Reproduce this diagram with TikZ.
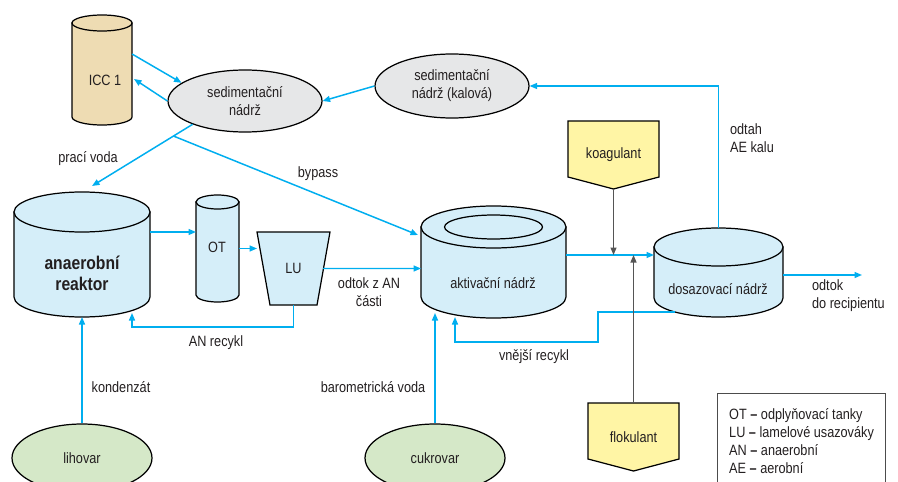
\documentclass[tikz,border=0pt]{standalone}
\usepackage{fontspec}
\setmainfont{Liberation Sans}[FakeStretch=0.85]
\usepackage{tikz}
\usetikzlibrary{positioning,arrows.meta,calc,shapes.geometric,backgrounds}
\definecolor{cFlow}{HTML}{00AEEF}
\definecolor{cTank}{HTML}{D5EEF9}
\definecolor{cSed}{HTML}{E6E7E8}
\definecolor{cSrc}{HTML}{D5E8C8}
\definecolor{cChem}{HTML}{FFF5A5}
\definecolor{cIcc}{HTML}{EEDCB3}
\definecolor{cDose}{HTML}{555555}
\definecolor{cText}{HTML}{231F20}

% cylinder round an empty body node: name, radii of the ends
\newcommand\drawtank[4][]{%
  \filldraw[tankline,#1] (#2.north west) -- (#2.south west)
    arc[start angle=180,end angle=360,x radius=#3,y radius=#4] -- (#2.north east) -- cycle;
  \filldraw[tankline,#1] (#2.north) ellipse[x radius=#3,y radius=#4];
}
\newcommand\ldash{ \textbf{--} }

\begin{document}
\begin{tikzpicture}[
  x=0.2mm, y=0.2mm,
  font=\fontsize{8.5}{10.2}\selectfont, text=cText,
  body/.style ={inner sep=0pt, outer sep=0pt},
  tankline/.style={draw=black, line width=0.7pt, fill=cTank},
  basin/.style={ellipse, draw=black, line width=0.7pt, inner sep=0pt, align=center},
  sed/.style  ={basin, fill=cSed, minimum width=30.8mm, minimum height=12.4mm},
  src/.style  ={basin, fill=cSrc, minimum width=28mm, minimum height=13.6mm},
  chem/.style ={inner sep=0pt, outer sep=0pt, minimum width=18.2mm, minimum height=13.6mm},
  chemline/.style={draw=black, line width=0.7pt, fill=cChem},
  flow/.style ={-{Triangle[length=1.5mm,width=1.2mm]}, draw=cFlow, line width=0.85pt},
  dose/.style ={-{Triangle[length=1.5mm,width=1.2mm]}, draw=cDose, line width=0.7pt},
  lbl/.style  ={align=center, inner sep=1pt},
  bold/.style ={font=\fontsize{10.5}{11.9}\selectfont\bfseries},
]
\useasboundingbox (0,0) rectangle (898,481);

% tanks
\node[body, minimum width=12mm,   minimum height=18.8mm] (icc)     at (102,411)    {};
\node[body, minimum width=27.2mm, minimum height=17mm]   (reactor) at (82,226.5)   {};
\node[body, minimum width=8.6mm,  minimum height=18.6mm] (ot)      at (217.5,232.5) {};
\node[body, minimum width=29mm,   minimum height=14mm]   (akt)     at (493.5,219)  {};
\node[body, minimum width=25.8mm, minimum height=10.2mm] (dos)     at (718.5,208.5) {};
\drawtank[fill=cIcc]{icc}{30}{8}
\drawtank{reactor}{68}{20}
\drawtank{ot}{21.5}{7}
\drawtank{akt}{72.5}{21}
\draw[line width=0.7pt] (akt.north) ellipse[x radius=49,y radius=12];
\drawtank{dos}{64.5}{19}

\node (icctxt)     at (105,401)   {ICC 1};
\node[bold, align=center] (reactortxt) at (82,207.5) {anaerobní\\reaktor};
\node (ottxt)      at (217,234)   {OT};
\node (akttxt)     at (493,198)   {aktivační nádrž};
\node (dostxt)     at (718,192)   {dosazovací nádrž};

\node[body, minimum width=14.6mm, minimum height=14.6mm] (lu) at (293.5,212.5) {LU};

\node[sed] (sed) at (245,380) {sedimentační\\nádrž};
\node[sed, minimum height=12.8mm] (kal) at (452,395) {sedimentační\\nádrž (kalová)};
\node[src] (lih) at (82,23)  {lihovar};
\node[src] (cuk) at (435,23) {cukrovar};

\node[chem] (koag) at (613.5,326) {koagulant};
\node[chem] (flok) at (633.5,44)  {flokulant};

\begin{scope}[on background layer]
\filldraw[tankline] (lu.north west) -- (lu.north east) -- ($(lu.south east)+(-13,0)$)
  -- ($(lu.south west)+(13,0)$) -- cycle;
\foreach \c in {koag,flok}{
  \filldraw[chemline] (\c.north west) -- (\c.north east) -- ($(\c.south east)+(0,12)$)
    -- (\c.south) -- ($(\c.south west)+(0,12)$) -- cycle;}
\end{scope}

\node[draw=black!70, line width=0.6pt, anchor=north west, minimum height=19mm,
      minimum width=33.6mm, inner xsep=1.8mm, align=left] (legend) at (717,88)
  {OT\ldash odplyňovací tanky\\LU\ldash lamelové usazováky\\AN\ldash anaerobní\\AE\ldash aerobní};

% flows
\draw[flow] ($(icc.east)+(0,16)$) -- (sed.164);
\draw[flow] (sed.west) -- ($(icc.east)+(2,-9)$);
\draw[flow] (kal.west) -- (sed.east);
\draw[flow] ($(dos.north)+(0,19)$) |- (kal.east);
\coordinate (reactorin) at ($(reactor.north)+(10,26)$);
\draw[flow] (sed.204) -- (reactorin);
\coordinate (split) at ($(sed.204)!0.19!(reactorin)$);
\draw[flow] (split) -- ($(akt.north west)+(-3,-8)$);
\draw[flow] ($(reactor.east)+(0,22.5)$) -- ($(ot.west)+(0,16.5)$);
\draw[flow] (ot.east) -- (ot.east -| lu.west);
\draw[flow] ($(lu.east)+(-7,0)$) -- ($(akt.west)+(0,-6.5)$);
\draw[flow] (lu.south) |- ($(reactor.south)+(50,-30)$) -- ($(reactor.south)+(50,-16)$);
\draw[flow] (lih.north) -- ($(reactor.south)+(0,-20)$);
\draw[flow] (cuk.north) -- ($(akt.south)+(-58.5,-16)$);
\draw[flow] ($(dos.south)+(-43.5,-14)$) -| ($(akt.south)+(104.5,-45)$) -| ($(akt.south)+(-38.5,-20)$);
\coordinate (mix) at ($(akt.east)+(0,7)$);
\draw[flow] (mix) -- (mix -| dos.west);
\coordinate (outlet) at ($(dos.east)+(79,-2.5)$);
\draw[flow] ($(dos.east)+(0,-2.5)$) -- (outlet);

% dosing
\draw[dose] (koag.south) -- (koag.south |- mix);
\draw[dose] (flok.north) -- (flok.north |- mix);

% labels
\node[lbl] (pracilbl)  at (88,322)  {prací voda};
\node[lbl] (bypasslbl) at (318,307) {bypass};
\node[lbl] (anoutlbl)  at (369,189) {odtok z AN\\části};
\node[lbl] (anreclbl)  at (216,138) {AN recykl};
\node[lbl] (kondlbl)   at (121,94)  {kondenzát};
\node[lbl] (barolbl)   at (373,94)  {barometrická voda};
\node[lbl] (extreclbl) at (534,124) {vnější recykl};
\node[lbl, anchor=west, align=left] (odtahlbl)     at (728,343) {odtah\\AE kalu};
\node[lbl, anchor=west, align=left] (recipientlbl) at (810,185) {odtok\\do recipientu};
\end{tikzpicture}
\end{document}
